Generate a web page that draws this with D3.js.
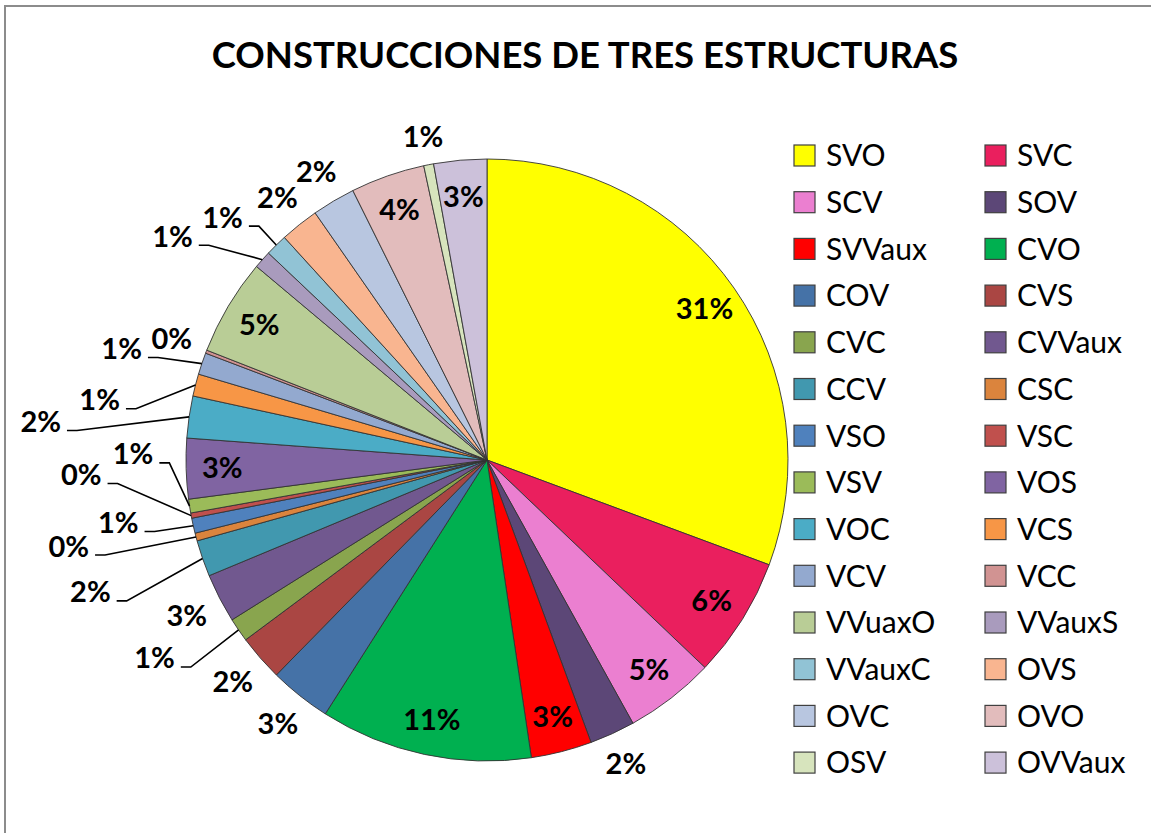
<!DOCTYPE html>
<html>
<head>
<meta charset="utf-8">
<script src="https://cdn.jsdelivr.net/npm/d3@7"></script>
<style>
  body { margin: 0; background: #fff; }
  text { font-family: Lato, "Open Sans", "DejaVu Sans", sans-serif; }
</style>
</head>
<body>
<svg id="chart" width="1151" height="833"></svg>
<script>
// ---- data (share of constructions, %) ----
const chartTitle = "CONSTRUCCIONES DE TRES ESTRUCTURAS";

const categories = ["SVO", "SVC", "SCV", "SOV", "SVVaux", "CVO", "COV", "CVS",
    "CVC", "CVVaux", "CCV", "CSC", "VSO", "VSC", "VSV", "VOS", "VOC", "VCS",
    "VCV", "VCC", "VVuaxO", "VVauxS", "VVauxC", "OVS", "OVC", "OVO", "OSV", "OVVaux"];

const shares = [30.65, 6.45, 4.83, 2.44, 3.26, 11.38, 3.31, 2.47,
    1.28, 2.63, 1.95, 0.42, 0.81, 0.28, 0.74, 3.24, 2.25, 1.19,
    1.17, 0.17, 5.17, 0.95, 1.18, 2.08, 2.32, 3.98, 0.53, 2.84];

const sliceColors = ["#FFFF00", "#EA1F5E", "#EB7FD0", "#5C4777", "#FF0000", "#00B050", "#4572A7", "#AA4643",
    "#89A54E", "#71588F", "#4198AF", "#DB843D", "#4F81BD", "#C0504D", "#9BBB59", "#8064A2", "#4BACC6", "#F79646",
    "#93A9CF", "#D19392", "#B9CD96", "#A99BBD", "#91C3D5", "#F9B590", "#B8C6E0", "#E2BCBC", "#D7E4BD", "#CCC1DA"];

// slices whose label fits inside the wedge (Excel "best fit")
const insideLabels = ["SVO", "SVC", "SCV", "SVVaux", "CVO", "VOS", "VVuaxO", "OVO", "OVVaux"];

// labels Excel pulled away from crowded thin slices:
// [angle shift from slice middle (deg), distance from pie centre (px)] -> drawn with a leader line
const labelNudge = {
    CVC: [3.6, 387], CCV: [0.7, 418], CSC: [3.2, 427], VSO: [3.0, 374],
    VSC: [8.6, 406], VSV: [9.8, 354], VOC: [-3.3, 448], VCS: [-5.6, 392],
    VCV: [-1.7, 382], VVauxS: [-6.3, 386], VVauxC: [-3.0, 359]
};

// ---- layout ----
const width = 1151, height = 833;
const cx = 487, cy = 460, R = 301;

let svg = d3.select("#chart");

// chart area frame (runs off the right / bottom edge like the screenshot)
svg.append("rect")
    .attr("x", 5).attr("y", 6)
    .attr("width", width + 20).attr("height", height + 20)
    .attr("fill", "#fff")
    .attr("stroke", "#8c8c8c")
    .attr("stroke-width", 2);

svg.append("text")
    .attr("x", 585).attr("y", 68)
    .attr("text-anchor", "middle")
    .style("font-weight", 700)
    .style("font-size", "36.5px")
    .attr("fill", "#000")
    .text(chartTitle);

let data = categories.map(function(c, i) {
    return {name: c, value: shares[i], color: sliceColors[i]};
});

let pie = d3.pie().sort(null).value(function(d) { return d.value; });
let arcs = pie(data);
let arc = d3.arc().innerRadius(0).outerRadius(R);

let canvas = svg.append("g").attr("transform", "translate(" + cx + "," + cy + ")");

canvas.selectAll("path.slice")
    .data(arcs)
    .join("path")
    .attr("class", "slice")
    .attr("d", arc)
    .attr("fill", function(d) { return d.data.color; })
    .attr("stroke", "#333")
    .attr("stroke-width", 0.9)
    .attr("stroke-linejoin", "round");

// ---- data labels ----
let fmt = d3.format(".0%");
let leaderLayer = canvas.append("g");
let labelLayer = canvas.append("g");
let rIn = 0.88 * R, gap = 14, lh = 22;

function mid(a) { return (a.startAngle + a.endAngle) / 2; }

arcs.forEach(function(a) {
    let m = mid(a);
    let t = labelLayer.append("text")
        .attr("text-anchor", "middle")
        .attr("dy", "0.36em")
        .style("font-weight", 700)
        .style("font-size", "29px")
        .attr("fill", "#000")
        .text(fmt(a.data.value / 100));
    let lw = t.node().getComputedTextLength();
    let name = a.data.name;
    let x, y;

    if (insideLabels.indexOf(name) >= 0) {
        x = Math.sin(m) * rIn;
        y = -Math.cos(m) * rIn;
    } else if (labelNudge[name]) {
        let ang = m + labelNudge[name][0] * Math.PI / 180;
        let r = labelNudge[name][1];
        x = Math.sin(ang) * r;
        y = -Math.cos(ang) * r;

        // leader: short horizontal tick next to the label, then to the slice edge
        let side = x < 0 ? 1 : -1;
        let sx = x + side * (lw / 2 + 6);
        let ly = y + 9;
        let ex = Math.sin(m) * R, ey = -Math.cos(m) * R;
        leaderLayer.append("polyline")
            .attr("points", [[sx, ly], [sx + side * 10, ly], [ex, ey]].map(function(p) { return p.join(","); }).join(" "))
            .attr("fill", "none")
            .attr("stroke", "#000")
            .attr("stroke-width", 1.6);
    } else {
        // just outside the rim, pushed out by the half-extent of the text box
        let ext = Math.abs(Math.sin(m)) * lw / 2 + Math.abs(Math.cos(m)) * lh / 2;
        let r = R + gap + ext;
        x = Math.sin(m) * r;
        y = -Math.cos(m) * r;
    }
    t.attr("x", x).attr("y", y);
});

// ---- legend: two columns ----
let legend = svg.append("g");
let rowY = d3.scaleLinear().domain([0, 13]).range([155.5, 762.6]);
let colX = d3.scaleOrdinal().domain([0, 1]).range([794, 985]);
let sw = 21;

let items = legend.selectAll("g.item")
    .data(data)
    .join("g")
    .attr("class", "item")
    .attr("transform", function(d, i) {
        return "translate(" + colX(i % 2) + "," + rowY(Math.floor(i / 2)) + ")";
    });

items.append("rect")
    .attr("x", 0).attr("y", -sw / 2)
    .attr("width", sw).attr("height", sw)
    .attr("fill", function(d) { return d.color; })
    .attr("stroke", "#404040")
    .attr("stroke-width", 1.2);

items.append("text")
    .attr("x", 32).attr("y", 0)
    .attr("dy", "0.36em")
    .style("font-size", "30px")
    .attr("fill", "#000")
    .text(function(d) { return d.name; });
</script>
</body>
</html>
